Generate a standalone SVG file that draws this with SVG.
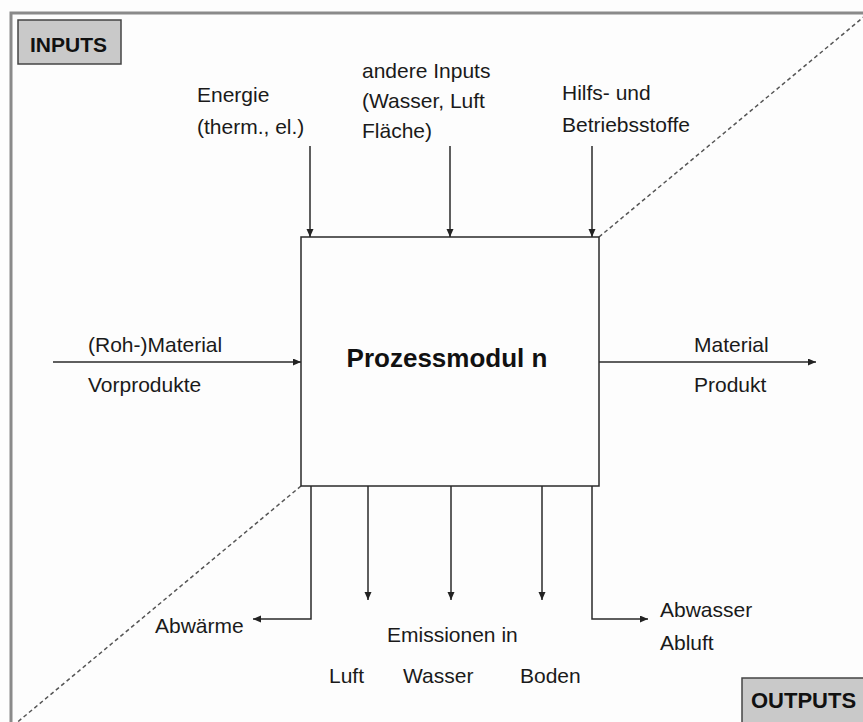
<svg xmlns="http://www.w3.org/2000/svg" width="863" height="722" viewBox="0 0 863 722">
<defs>
<style>
.t{font-family:"Liberation Sans",Arial,sans-serif;font-size:21px;fill:#1a1a1a}
.b{font-family:"Liberation Sans",Arial,sans-serif;font-weight:bold;fill:#111}
.c{stroke:#2a2a2a;stroke-width:1.5;fill:none}
.d{stroke:#555;stroke-width:1.5;stroke-dasharray:4 3;fill:none}
.tag{fill:#c9c9c9;stroke:#444;stroke-width:1.5}
</style>
<marker id="ah" markerUnits="userSpaceOnUse" markerWidth="9" markerHeight="8" refX="8" refY="3.5" orient="auto">
<path d="M0,0 L8,3.5 L0,7 z" fill="#222"/>
</marker>
</defs>
<rect width="863" height="722" fill="#fdfdfd"/>
<rect x="11" y="13" width="862" height="722" fill="none" stroke="#8a8a8a" stroke-width="3"/>
<g id="divider">
<line class="d" x1="301" y1="486" x2="14" y2="725"/>
<line class="d" x1="599" y1="237" x2="866" y2="15"/>
</g>
<g id="inputs-tag">
<rect class="tag" x="18" y="20" width="103" height="44"/>
<text class="b" x="30" y="52" font-size="21">INPUTS</text>
</g>
<g id="outputs-tag">
<rect class="tag" x="742" y="678" width="130" height="55"/>
<text class="b" x="751" y="708" font-size="22">OUTPUTS</text>
</g>
<g id="prozessmodul">
<rect x="301" y="237" width="298" height="249" fill="#fdfdfd" stroke="#2a2a2a" stroke-width="1.5"/>
<text class="b" x="447" y="367" font-size="26" text-anchor="middle">Prozessmodul n</text>
</g>
<g id="connectors">
<line class="c" x1="310" y1="146" x2="310" y2="237" marker-end="url(#ah)"/>
<line class="c" x1="450" y1="146" x2="450" y2="237" marker-end="url(#ah)"/>
<line class="c" x1="592" y1="146" x2="592" y2="237" marker-end="url(#ah)"/>
<line class="c" x1="53" y1="362" x2="301" y2="362" marker-end="url(#ah)"/>
<line class="c" x1="599" y1="362" x2="816" y2="362" marker-end="url(#ah)"/>
<path class="c" d="M311,486 V619 H253" marker-end="url(#ah)"/>
<line class="c" x1="368" y1="486" x2="368" y2="600" marker-end="url(#ah)"/>
<line class="c" x1="451" y1="486" x2="451" y2="600" marker-end="url(#ah)"/>
<line class="c" x1="542" y1="486" x2="542" y2="600" marker-end="url(#ah)"/>
<path class="c" d="M592,486 V619 H648" marker-end="url(#ah)"/>
</g>
<g id="energie">
<text class="t" x="197" y="102">Energie</text>
<text class="t" x="197" y="134">(therm., el.)</text>
</g>
<g id="andere-inputs">
<text class="t" x="362" y="78">andere Inputs</text>
<text class="t" x="362" y="108">(Wasser, Luft</text>
<text class="t" x="362" y="138">Fläche)</text>
</g>
<g id="hilfsstoffe">
<text class="t" x="562" y="100">Hilfs- und</text>
<text class="t" x="562" y="132">Betriebsstoffe</text>
</g>
<g id="rohmaterial">
<text class="t" x="88" y="352">(Roh-)Material</text>
<text class="t" x="88" y="392">Vorprodukte</text>
</g>
<g id="produkt">
<text class="t" x="694" y="352">Material</text>
<text class="t" x="694" y="392">Produkt</text>
</g>
<g id="abwaerme">
<text class="t" x="155" y="633">Abwärme</text>
</g>
<g id="emissionen">
<text class="t" x="387" y="642">Emissionen in</text>
<text class="t" x="329" y="683">Luft</text>
<text class="t" x="403" y="683">Wasser</text>
<text class="t" x="520" y="683">Boden</text>
</g>
<g id="abwasser">
<text class="t" x="660" y="617">Abwasser</text>
<text class="t" x="660" y="650">Abluft</text>
</g>
</svg>
